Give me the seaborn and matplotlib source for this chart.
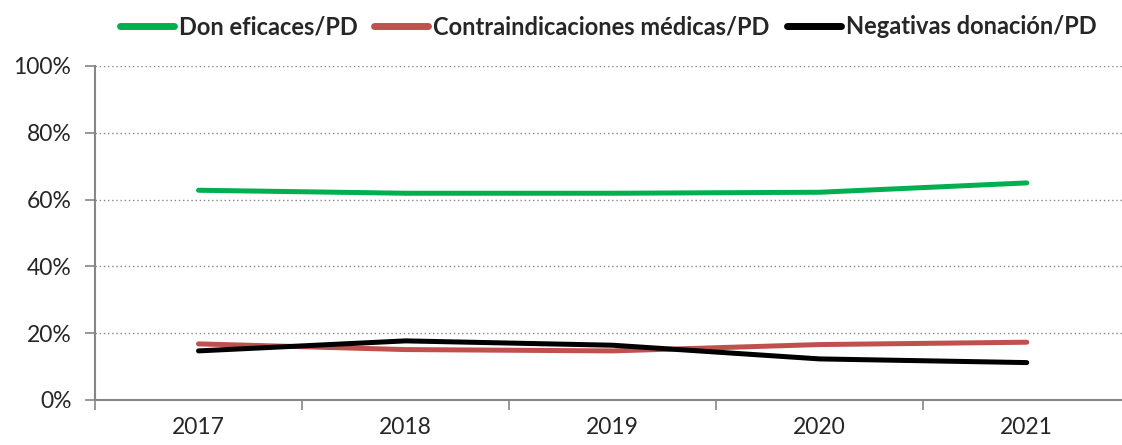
import numpy as np
import pandas as pd
import matplotlib.pyplot as plt
import seaborn as sns
from matplotlib.ticker import PercentFormatter, FixedLocator
from matplotlib.lines import Line2D

sns.set_theme(style="white")
plt.rcParams["font.family"] = ["Lato", "DejaVu Sans"]

# data (shares of PD, in %)
years = ["2017", "2018", "2019", "2020", "2021"]
series_names = ["Don eficaces/PD", "Contraindicaciones médicas/PD", "Negativas donación/PD"]
don_eficaces = [62.8, 61.9, 61.9, 62.2, 65.0]
contraindicaciones = [16.8, 15.1, 14.7, 16.6, 17.3]
negativas = [14.7, 17.7, 16.4, 12.3, 11.2]
colors = ["#00B050", "#C0504D", "#000000"]

df = pd.DataFrame({
    "year": years * 3,
    "serie": np.repeat(series_names, len(years)),
    "valor": don_eficaces + contraindicaciones + negativas,
})
df["x"] = df["year"].map({y: i for i, y in enumerate(years)})

fig = plt.figure(figsize=(11.22, 4.45), dpi=100)
ax = fig.add_axes([95 / 1122, 45 / 445, 1 - 95 / 1122, (400 - 66) / 445])

sns.lineplot(data=df, x="x", y="valor", hue="serie", palette=colors,
             hue_order=series_names, linewidth=3.6, ax=ax, legend=False,
             solid_capstyle="round")

ax.set_xlim(-0.5, 4.46)
ax.set_ylim(0, 100)
ax.set_xticks(range(len(years)))
ax.set_xticklabels(years)
ax.xaxis.set_minor_locator(FixedLocator(np.arange(-0.5, 4.6, 1)))
ax.tick_params(axis="x", which="major", length=0, pad=12, labelsize=16.5)
ax.tick_params(axis="x", which="minor", direction="out", length=7, width=1.2,
               color="#868686", bottom=True)
ax.set_yticks(np.arange(0, 101, 20))
ax.yaxis.set_major_formatter(PercentFormatter(decimals=0))
ax.tick_params(axis="y", direction="out", length=7, width=1.2, color="#868686",
               labelsize=16.5, pad=10, left=True)
ax.grid(axis="y", linestyle=(0, (1, 2)), color="#868686", linewidth=1)
ax.set_axisbelow(True)

for side in ["top", "right"]:
    ax.spines[side].set_visible(False)
for side in ["left", "bottom"]:
    ax.spines[side].set_color("#868686")
    ax.spines[side].set_linewidth(1.5)
ax.set_xlabel("")
ax.set_ylabel("")

handles = [Line2D([0], [0], color=c, linewidth=5, solid_capstyle="round") for c in colors]
fs = 17
px = fs * 100 / 72
fig.legend(handles, series_names, loc="center", bbox_to_anchor=(608 / 1122, 1 - 27 / 445),
           ncol=3, frameon=False, prop={"weight": "bold", "size": fs},
           handlelength=54 / px, handletextpad=5 / px,
           columnspacing=17 / px, borderaxespad=0, borderpad=0)

fig.savefig("out.png", dpi=100)
